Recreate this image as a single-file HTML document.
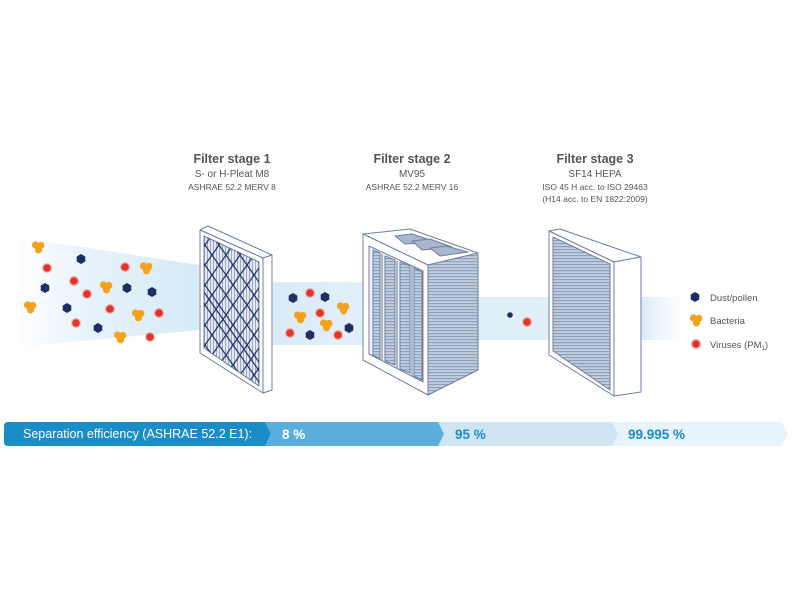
<!DOCTYPE html>
<html><head><meta charset="utf-8"><style>
html,body{margin:0;padding:0;background:#fff}
svg{display:block}
text{font-family:"Liberation Sans",sans-serif}
</style></head><body>
<svg width="792" height="612" viewBox="0 0 792 612" xmlns="http://www.w3.org/2000/svg">
<defs>
<linearGradient id="b1" x1="0" x2="1" y1="0" y2="0"><stop offset="0" stop-color="#eef6fc" stop-opacity="0.1"/><stop offset="0.35" stop-color="#e8f3fb"/><stop offset="1" stop-color="#d6eaf7"/></linearGradient>
<linearGradient id="b2" x1="0" x2="1"><stop offset="0" stop-color="#d8ebf7"/><stop offset="1" stop-color="#e3f0f9"/></linearGradient>
<linearGradient id="b4" x1="0" x2="1"><stop offset="0" stop-color="#d8ebf7"/><stop offset="1" stop-color="#eef6fc" stop-opacity="0.3"/></linearGradient>
<pattern id="pleat" width="3" height="3" patternUnits="userSpaceOnUse"><rect width="3" height="3" fill="#c4cfdf"/><rect y="0" width="3" height="1.2" fill="#8d9fbd"/></pattern>
<pattern id="vpl" width="3" height="3" patternUnits="userSpaceOnUse"><rect width="3" height="3" fill="#e3e8f1"/><rect width="1" height="3" fill="#9aa8c2"/></pattern>
<g id="dk"><polygon points="0,-5 4.3,-2.5 4.3,2.5 0,5 -4.3,2.5 -4.3,-2.5" fill="#1f2f66"/></g>
<g id="or" fill="#f4a11c"><circle cx="-2.5" cy="-2" r="3.6"/><circle cx="2.8" cy="-1.5" r="3.6"/><circle cx="0.5" cy="2.8" r="3.6"/></g>
<g id="rd"><circle r="5" fill="#f08a80" opacity="0.6"/><circle r="3.8" fill="#e5322a"/></g>
<clipPath id="c1"><polygon points="204,236 259,262 259,386 204,348"/></clipPath>
</defs>

<!-- air bands -->
<polygon points="18,237 199,265 199,330 18,347" fill="url(#b1)"/>
<rect x="273" y="282" width="92" height="63" fill="url(#b2)"/>
<rect x="478" y="297" width="72" height="43" fill="#e0eef8"/>
<rect x="640" y="297" width="40" height="43" fill="url(#b4)"/>

<!-- titles -->
<g fill="#555" text-anchor="middle">
<text x="232" y="163" font-size="12.5" font-weight="bold">Filter stage 1</text>
<text x="232" y="177" font-size="10">S- or H-Pleat M8</text>
<text x="232" y="190" font-size="8.5">ASHRAE 52.2 MERV 8</text>
<text x="412" y="163" font-size="12.5" font-weight="bold">Filter stage 2</text>
<text x="412" y="177" font-size="10">MV95</text>
<text x="412" y="190" font-size="8.5">ASHRAE 52.2 MERV 16</text>
<text x="595" y="163" font-size="12.5" font-weight="bold">Filter stage 3</text>
<text x="595" y="177" font-size="10">SF14 HEPA</text>
<text x="595" y="190" font-size="8.5">ISO 45 H acc. to ISO 29463</text>
<text x="595" y="202" font-size="8.5">(H14 acc. to EN 1822:2009)</text>
</g>

<!-- filter 1 -->
<g stroke="#6f7fa0" stroke-width="1" stroke-linejoin="round">
<polygon points="200,230 208,226 272,255 263,258" fill="#fff"/>
<polygon points="263,258 272,255 272,390 263,393" fill="#fff"/>
<polygon points="200,230 263,258 263,393 200,353" fill="#fff"/>
<polygon points="204,236 259,262 259,386 204,348" fill="url(#vpl)"/>
</g>
<g clip-path="url(#c1)" stroke="#2a3a72" stroke-width="1.3" fill="none">
<path d="M100,215 l126,180 M114,215 l126,180 M128,215 l126,180 M142,215 l126,180 M156,215 l126,180 M170,215 l126,180 M184,215 l126,180 M198,215 l126,180 M212,215 l126,180 M226,215 l126,180 M240,215 l126,180 M254,215 l126,180 M86,215 l126,180 M72,215 l126,180"/>
<path d="M150,215 l126,180 M164,215 l0,0"/>
<path d="M380,215 l-126,180 M366,215 l-126,180 M352,215 l-126,180 M338,215 l-126,180 M324,215 l-126,180 M310,215 l-126,180 M296,215 l-126,180 M282,215 l-126,180 M268,215 l-126,180 M254,215 l-126,180 M240,215 l-126,180 M226,215 l-126,180 M212,215 l-126,180 M394,215 l-126,180"/>
</g>

<!-- filter 2 -->
<g stroke="#6f7fa0" stroke-width="1" stroke-linejoin="round">
<polygon points="363,234 410,229 478,253 428,265" fill="#fff"/>
<polygon points="395,236 412,234 436,242 405,244" fill="#a9b7cd"/>
<polygon points="412,241 430,239 452,247 422,250" fill="#a9b7cd"/>
<polygon points="430,248 446,246 468,252 440,256" fill="#a9b7cd"/>
<polygon points="363,234 428,265 428,395 363,360" fill="#fff"/>
<polygon points="369,246 423,271 423,382 369,354" fill="#eef2f8"/>
<polygon points="373,250 380,253 380,359 373,355" fill="url(#pleat)"/>
<polygon points="385,256 395,260 395,365 385,361" fill="url(#pleat)"/>
<polygon points="400,262 410,266 410,373 400,369" fill="url(#pleat)"/>
<polygon points="414,268 422,272 422,380 414,376" fill="url(#pleat)"/>
<line x1="382" y1="254" x2="382" y2="361"/><line x1="397" y1="261" x2="397" y2="368"/><line x1="412" y1="267" x2="412" y2="376"/>
<polygon points="428,265 478,253 478,370 428,395" fill="url(#pleat)"/>
</g>

<!-- filter 3 -->
<g stroke="#6f7fa0" stroke-width="1" stroke-linejoin="round">
<polygon points="549,231 560,229 641,257 614,262" fill="#fff"/>
<polygon points="614,262 641,257 641,392 614,396" fill="#fff"/>
<polygon points="549,231 614,262 614,396 549,355" fill="#fff"/>
<polygon points="553,237 610,264 610,390 553,351" fill="url(#pleat)"/>
</g>

<!-- particles -->
<use href="#or" x="38" y="247"/><use href="#or" x="146" y="268"/><use href="#or" x="106" y="287"/><use href="#or" x="30" y="307"/><use href="#or" x="138" y="315"/><use href="#or" x="120" y="337"/><use href="#or" x="300" y="317"/><use href="#or" x="343" y="308"/><use href="#or" x="326" y="325"/>
<use href="#dk" x="81" y="259"/><use href="#dk" x="45" y="288"/><use href="#dk" x="127" y="288"/><use href="#dk" x="152" y="292"/><use href="#dk" x="67" y="308"/><use href="#dk" x="98" y="328"/><use href="#dk" x="293" y="298"/><use href="#dk" x="325" y="297"/><use href="#dk" x="310" y="335"/><use href="#dk" x="349" y="328"/>
<use href="#rd" x="47" y="268"/><use href="#rd" x="74" y="281"/><use href="#rd" x="87" y="294"/><use href="#rd" x="125" y="267"/><use href="#rd" x="110" y="309"/><use href="#rd" x="159" y="313"/><use href="#rd" x="76" y="323"/><use href="#rd" x="150" y="337"/><use href="#rd" x="310" y="293"/><use href="#rd" x="320" y="313"/><use href="#rd" x="290" y="333"/><use href="#rd" x="338" y="335"/>
<circle cx="510" cy="315" r="2.8" fill="#1f2f66"/><use href="#rd" x="527" y="322"/>

<!-- legend -->
<use href="#dk" x="695" y="297"/><use href="#or" x="696" y="320"/><use href="#rd" x="696" y="344"/>
<g fill="#555" font-size="9.5">
<text x="710" y="301">Dust/pollen</text>
<text x="710" y="324">Bacteria</text>
<text x="710" y="348">Viruses (PM<tspan font-size="6" dy="2">1</tspan><tspan dy="-2">)</tspan></text>
</g>

<!-- bar -->
<polygon points="612,422 782,422 788,434 782,446 612,446 618,434" fill="#e8f3fb"/>
<polygon points="438,422 612,422 618,434 612,446 438,446 444,434" fill="#cfe5f4"/>
<polygon points="265,422 438,422 444,434 438,446 265,446 271,434" fill="#5aaedd"/>
<path d="M8,422 H265 L271,434 L265,446 H8 Q4,446 4,442 V426 Q4,422 8,422 Z" fill="#1a8cc8"/>
<text x="23" y="438" font-size="12.5" fill="#fff">Separation efficiency (ASHRAE 52.2 E1):</text>
<text x="282" y="439" font-size="13.5" font-weight="bold" fill="#fff">8 %</text>
<text x="455" y="439" font-size="13.5" font-weight="bold" fill="#1a8cc8">95 %</text>
<text x="628" y="439" font-size="13.5" font-weight="bold" fill="#1a8cc8">99.995 %</text>
</svg>
</body></html>
